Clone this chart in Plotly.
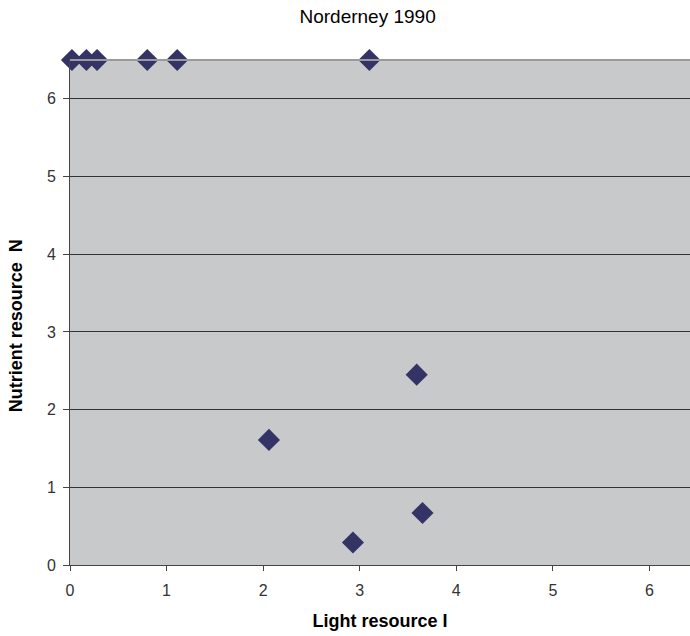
import plotly.graph_objects as go

light_I = [0.02, 0.17, 0.28, 0.80, 1.11, 3.10, 2.06, 3.59, 3.65, 2.93]
nutrient_N = [6.5, 6.5, 6.5, 6.5, 6.5, 6.5, 1.61, 2.45, 0.67, 0.29]
x_ticks = [0, 1, 2, 3, 4, 5, 6]
y_ticks = [0, 1, 2, 3, 4, 5, 6]

fig = go.Figure()
fig.add_trace(go.Scatter(
    x=light_I, y=nutrient_N, mode="markers",
    marker=dict(symbol="diamond", size=17, color="#333366",
                line=dict(width=0)),
    cliponaxis=False, showlegend=False,
))

fig.update_layout(
    width=690, height=636,
    margin=dict(l=70, r=0, t=60, b=71),
    paper_bgcolor="white", plot_bgcolor="#C8C9CB",
    font=dict(family="Liberation Sans, Arial, sans-serif", color="#222"),
    title=dict(text="Norderney 1990", x=0.48, xanchor="center", xref="paper",
               y=0.975, yanchor="middle",
               font=dict(size=19, color="black")),
    xaxis=dict(range=[0, 6.42], tickvals=x_ticks, showgrid=False, zeroline=False,
               showline=True, linecolor="#444", linewidth=1,
               ticks="outside", ticklen=5, tickcolor="#444",
               ticklabelstandoff=6,
               tickfont=dict(size=16, color="#333"),
               title=dict(text="<b>Light resource I</b>", font=dict(size=18, color="black"),
                          standoff=16)),
    yaxis=dict(range=[0, 6.5], tickvals=y_ticks, showgrid=True, gridcolor="#333",
               gridwidth=1, zeroline=False,
               showline=True, linecolor="#444", linewidth=1,
               ticks="outside", ticklen=6, tickcolor="#444",
               ticklabelstandoff=4,
               tickfont=dict(size=16, color="#333")),
    annotations=[dict(text="<b>Nutrient resource  N</b>", xref="paper", yref="paper",
                      x=-0.087, y=0.473, xanchor="center", yanchor="middle",
                      textangle=-90, showarrow=False,
                      font=dict(size=18, color="black"))],
    shapes=[dict(type="line", xref="paper", yref="paper", x0=0, x1=1, y0=1, y1=1,
                 line=dict(color="#9a9a9a", width=2))],
)

fig.write_html("out.html")
